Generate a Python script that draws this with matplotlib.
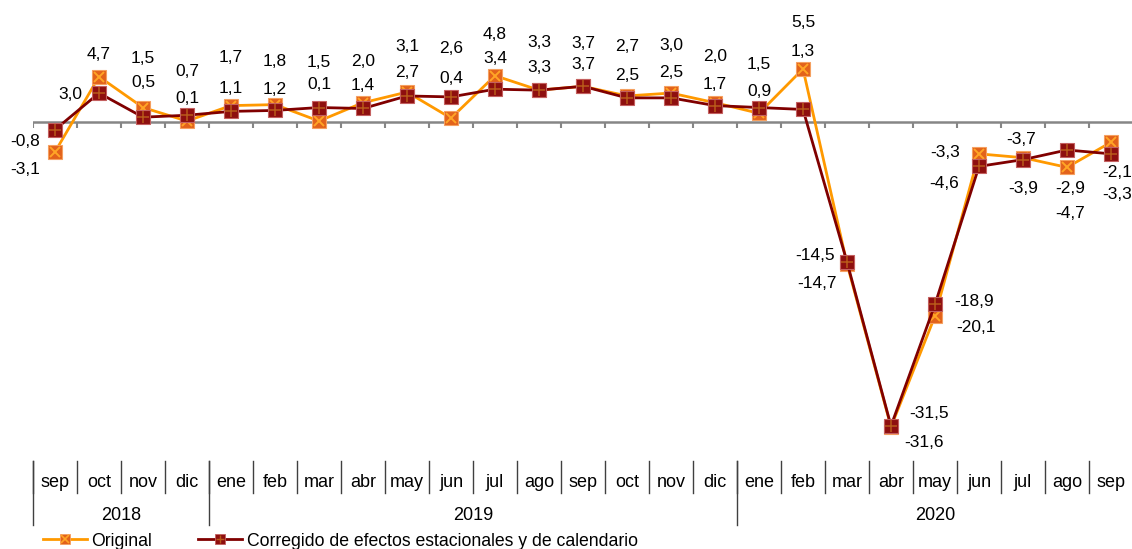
import matplotlib
matplotlib.use("Agg")
import matplotlib.pyplot as plt
import matplotlib.transforms as mtransforms
from matplotlib.lines import Line2D

# ---------------- data ----------------
months = ["sep", "oct", "nov", "dic", "ene", "feb", "mar", "abr", "may", "jun", "jul", "ago",
          "sep", "oct", "nov", "dic", "ene", "feb", "mar", "abr", "may", "jun", "jul", "ago", "sep"]
years = ["2018", "2019", "2020"]
year_first = [0, 4, 16]
year_last = [3, 15, 24]

original = [-3.1, 4.7, 1.5, 0.1, 1.7, 1.8, 0.1, 2.0, 3.1, 0.4, 4.8, 3.3, 3.7, 2.7, 3.0, 2.0,
            0.9, 5.5, -14.7, -31.6, -20.1, -3.3, -3.7, -4.7, -2.1]
corregido = [-0.8, 3.0, 0.5, 0.7, 1.1, 1.2, 1.5, 1.4, 2.7, 2.6, 3.4, 3.3, 3.7, 2.5, 2.5, 1.7,
             1.5, 1.3, -14.5, -31.5, -18.9, -4.6, -3.9, -2.9, -3.3]

series_names = ["Original", "Corregido de efectos estacionales y de calendario"]

# label offsets in screen pixels (dx, dy up) – centre of the digits relative to the point
orig_off = [(-30, -16), (0, 24), (0, 51), (0, 24), (0, 50), (0, 45), (0, 38), (0, 43), (0, 47),
            (0, 41), (0, 43), (0, 49), (0, 45), (0, 51), (0, 49), (0, 48), (0, 24), (0, 48),
            (-30, -18), (33, -14), (41, -10), (-34, 3), (-2, 20), (3, -44), (6, -29)]
corr_off = [(-30, -10), (-29, 0), (0, 36), (0, 45), (0, 25), (0, 23), (0, 47), (0, 25), (0, 25),
            (0, 50), (0, 32), (0, 24), (0, 24), (0, 24), (0, 27), (0, 23), (0, 45), (0, 60),
            (-32, 8), (38, 14), (39, 5), (-35, -15), (0, -27), (3, -37), (6, -39)]

# ---------------- style ----------------
ORANGE = "#FF9900"
ORANGE_FILL = "#E2621B"
DARKRED = "#800000"
DARKRED_FILL = "#8E0F0F"
FONT = "Liberation Sans"

W, H = 1132, 549
fig = plt.figure(figsize=(W / 100, H / 100), dpi=100)
px_per_unit = 9.65
zero_px = 122
bottom_px = 455
ax = fig.add_axes([33 / W, 1 - bottom_px / H, 1100 / W, bottom_px / H])
ax.set_xlim(-0.5, 24.5)
ax.set_ylim(-(bottom_px - zero_px) / px_per_unit, zero_px / px_per_unit)
ax.axis("off")

x = list(range(len(months)))

# zero axis line and ticks
ax.axhline(0, color="#868686", lw=1.8, zorder=1)
tick_len = 6 / px_per_unit
ax.vlines([i - 0.5 for i in range(len(months))], -tick_len, 0, color="#868686", lw=1.5, zorder=1)

# series
ax.plot(x, original, color=ORANGE, lw=2, zorder=2)
ax.plot(x, original, ls="none", marker="s", ms=9.5, mfc=ORANGE_FILL, mec="#F5A060", mew=0.8, zorder=3)
ax.plot(x, original, ls="none", marker="x", ms=7.5, mec="#FFA526", mew=1.4, zorder=3.1)
ax.plot(x, corregido, color=DARKRED, lw=2, zorder=4)
ax.plot(x, corregido, ls="none", marker="s", ms=9.5, mfc=DARKRED_FILL, mec="#C46060", mew=0.8, zorder=5)
ax.plot(x, corregido, ls="none", marker="+", ms=8, mec="#B85A1A", mew=1.1, zorder=5.1)

# data labels
LABEL_SIZE = 12.5
cap_half = LABEL_SIZE * 100 / 72 * 0.716 / 2  # half cap height in px


def fmt(v):
    return f"{v:.1f}".replace(".", ",")


for i in x:
    for vals, offs in ((original, orig_off), (corregido, corr_off)):
        dx, dy = offs[i]
        ax.annotate(fmt(vals[i]), xy=(i, vals[i]), xytext=(dx, dy - cap_half), textcoords="offset pixels",
                    ha="center", va="baseline", fontsize=LABEL_SIZE, family=FONT, color="black",
                    annotation_clip=False, zorder=6)

# category axis (months / years)
tr = mtransforms.blended_transform_factory(ax.transData, fig.transFigure)


def fy(py):
    return 1 - py / H


AX_SIZE = 13
ax_cap_half = AX_SIZE * 100 / 72 * 0.716 / 2
for i, m in enumerate(months):
    ax.text(i, fy(482 + ax_cap_half - 1), m, transform=tr, ha="center", va="baseline",
            fontsize=AX_SIZE, family=FONT)
    ax.add_line(Line2D([i - 0.5, i - 0.5], [fy(461), fy(493)], transform=tr, color="#404040",
                       lw=1, clip_on=False))
for yl, a, b in zip(years, year_first, year_last):
    ax.text((a + b) / 2, fy(514 + ax_cap_half), yl, transform=tr, ha="center", va="baseline",
            fontsize=AX_SIZE, family=FONT)
    ax.add_line(Line2D([a - 0.5, a - 0.5], [fy(461), fy(525)], transform=tr, color="#404040",
                       lw=1, clip_on=False))

# legend
h1 = (Line2D([], [], color=ORANGE, lw=2, marker="s", ms=7, mfc=ORANGE_FILL, mec="#F5A060", mew=0.6),
      Line2D([], [], ls="none", marker="x", ms=5.5, mec="#FFA526", mew=1.2))
h2 = (Line2D([], [], color=DARKRED, lw=2, marker="s", ms=7, mfc=DARKRED_FILL, mec="#C46060", mew=0.6),
      Line2D([], [], ls="none", marker="+", ms=6, mec="#B85A1A", mew=1.0))
fig.legend([h1, h2], series_names, loc="center left", bbox_to_anchor=(43 / W, fy(541)),
           ncol=2, frameon=False, borderpad=0, borderaxespad=0, handlelength=2.5,
           handletextpad=0.25, columnspacing=2.6, prop={"family": FONT, "size": 12.7})

fig.savefig("out.png", dpi=100)
